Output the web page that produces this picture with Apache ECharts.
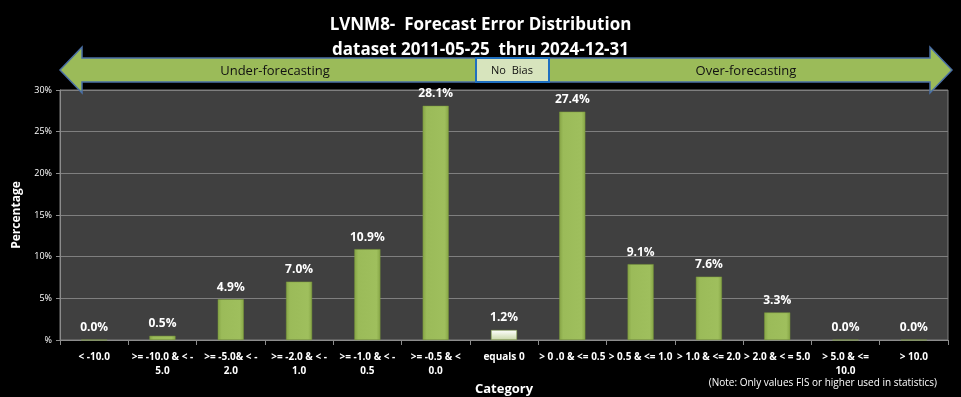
<!DOCTYPE html>
<html>
<head>
<meta charset="utf-8">
<script src="https://cdn.jsdelivr.net/npm/echarts@6/dist/echarts.min.js"></script>
<style>
  html, body { margin: 0; padding: 0; background: #000; }
  #chart { width: 961px; height: 397px; }
</style>
</head>
<body>
<div id="chart"></div>
<script>
const categories = [
  "< -10.0",
  ">= -10.0 & < -\n5.0",
  ">= -5.0& < -\n2.0",
  ">= -2.0 & < -\n1.0",
  ">= -1.0 & < -\n0.5",
  ">= -0.5 & <\n0.0",
  "equals 0",
  "> 0 .0 & <= 0.5",
  "> 0.5 & <= 1.0",
  "> 1.0 & <= 2.0",
  "> 2.0 & < = 5.0",
  "> 5.0 & <=\n10.0",
  "> 10.0",
];
const percents = [0.0, 0.5, 4.9, 7.0, 10.9, 28.1, 1.2, 27.4, 9.1, 7.6, 3.3, 0.0, 0.0];

const font = "'Liberation Sans Narrow', 'Open Sans', sans-serif";

const greenFill = new echarts.graphic.LinearGradient(0, 0, 1, 0, [
  { offset: 0, color: "#86a546" },
  { offset: 0.15, color: "#9bbb59" },
  { offset: 0.85, color: "#9fbf5d" },
  { offset: 1, color: "#86a546" },
]);
const paleFill = new echarts.graphic.LinearGradient(0, 0, 0, 1, [
  { offset: 0, color: "#ffffff" },
  { offset: 1, color: "#c9d8a8" },
]);

const chart = echarts.init(document.getElementById("chart"));
const option = {
  backgroundColor: "#000",
  title: {
    text: "LVNM8-  Forecast Error Distribution\ndataset 2011-05-25  thru 2024-12-31",
    left: "center",
    top: 8,
    textStyle: {
      color: "#fff",
      fontSize: 17,
      fontWeight: "bold",
      fontFamily: font,
      lineHeight: 25,
    },
  },
  grid: {
    left: 60,
    right: 13,
    top: 90,
    bottom: 57,
    outerBoundsMode: "none",
    containLabel: false,
    show: true,
    backgroundColor: "#404040",
    borderColor: "#7f7f7f",
    borderWidth: 1,
  },
  xAxis: {
    type: "category",
    data: categories,
    name: "Category",
    nameLocation: "middle",
    nameGap: 40,
    nameTextStyle: { color: "#fff", fontWeight: "bold", fontSize: 13, fontFamily: font },
    axisLine: { lineStyle: { color: "#8c8c8c" } },
    axisTick: { show: true, length: 5, lineStyle: { color: "#8c8c8c" } },
    axisLabel: {
      color: "#fff",
      fontSize: 10,
      fontWeight: "bold",
      fontFamily: font,
      interval: 0,
      lineHeight: 14,
      margin: 10,
    },
  },
  yAxis: {
    type: "value",
    min: 0,
    max: 30,
    interval: 5,
    name: "Percentage",
    nameLocation: "middle",
    nameGap: 37,
    nameTextStyle: { color: "#fff", fontWeight: "bold", fontSize: 12, fontFamily: font },
    axisLine: { show: true, lineStyle: { color: "#8c8c8c" } },
    axisTick: { show: true, length: 4, lineStyle: { color: "#8c8c8c" } },
    splitLine: { lineStyle: { color: "#7f7f7f", width: 1 } },
    axisLabel: {
      color: "#fff",
      fontSize: 9,
      fontFamily: font,
      margin: 8,
      formatter: (v) => (v === 0 ? "%" : v + "%"),
    },
  },
  series: [
    {
      type: "bar",
      barWidth: 26,
      data: percents.map((v, i) => ({
        value: v,
        itemStyle: {
          color: categories[i] === "equals 0" ? paleFill : greenFill,
          borderColor: "#7b9a3a",
          borderWidth: 0.5,
        },
      })),
      label: {
        show: true,
        position: "top",
        distance: 6,
        color: "#fff",
        fontSize: 12,
        fontWeight: "bold",
        fontFamily: font,
        formatter: (p) => p.value.toFixed(1) + "%",
      },
    },
  ],
  graphic: [
    {
      type: "polygon",
      shape: {
        points: [
          [60, 70], [82, 47], [82, 58], [930, 58], [930, 47],
          [952, 70], [930, 93], [930, 82], [82, 82], [82, 93],
        ],
      },
      style: { fill: "#9bbb59", stroke: "#4a6fa5", lineWidth: 1.5 },
      z: 10,
    },
    {
      type: "rect",
      shape: { x: 476, y: 58, width: 73, height: 24 },
      style: { fill: "#d7e4bd", stroke: "#1f6fc0", lineWidth: 2 },
      z: 11,
    },
    {
      type: "text",
      x: 275,
      y: 71,
      style: {
        text: "Under-forecasting",
        fill: "#111",
        fontSize: 13,
        fontFamily: font,
        align: "center",
        verticalAlign: "middle",
      },
      z: 12,
    },
    {
      type: "text",
      x: 512,
      y: 71,
      style: {
        text: "No  Bias",
        fill: "#111",
        fontSize: 11,
        fontFamily: font,
        align: "center",
        verticalAlign: "middle",
      },
      z: 12,
    },
    {
      type: "text",
      x: 746,
      y: 71,
      style: {
        text: "Over-forecasting",
        fill: "#111",
        fontSize: 13,
        fontFamily: font,
        align: "center",
        verticalAlign: "middle",
      },
      z: 12,
    },
    {
      type: "text",
      x: 937,
      y: 383,
      style: {
        text: "(Note: Only values FIS or higher used in statistics)",
        fill: "#fff",
        fontSize: 10,
        fontFamily: font,
        align: "right",
        verticalAlign: "middle",
      },
      z: 12,
    },
  ],
};

option && chart.setOption(option);
</script>
</body>
</html>
